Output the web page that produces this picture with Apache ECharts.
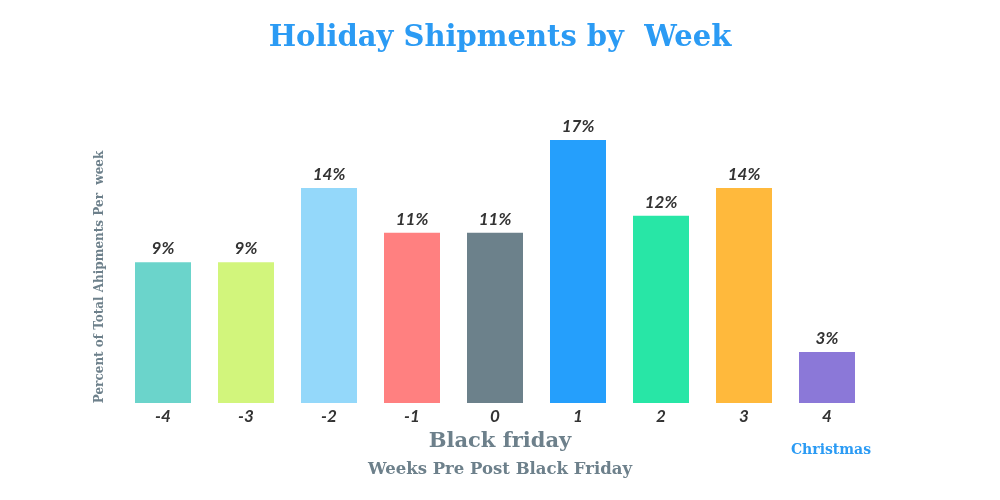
<!DOCTYPE html>
<html><head><meta charset="utf-8">
<script src="https://cdn.jsdelivr.net/npm/echarts@6/dist/echarts.min.js"></script>
<style>html,body{margin:0;padding:0;background:#fff}#c{width:1000px;height:500px}</style>
</head><body><div id="c"></div>
<script>
const weeks = ['-4','-3','-2','-1','0','1','2','3','4'];
const shares = [9.1, 9.1, 13.9, 11.0, 11.0, 17.0, 12.1, 13.9, 3.3];
const labels = ['9%','9%','14%','11%','11%','17%','12%','14%','3%'];
const colors = ['#6bd4cb','#d2f57c','#94d8fa','#ff8080','#6c818b','#259ffc','#28e6a6','#ffb93c','#8b78d8'];

const chart = echarts.init(document.getElementById('c'));
chart.setOption({
  backgroundColor:'#fff',
  title:[
    {text:'Holiday Shipments by  Week',left:'center',top:19,
     textStyle:{fontFamily:'DejaVu Serif',fontWeight:'bold',fontSize:29,color:'#2b9bf4'}},
    {text:'Black friday',left:495,textAlign:'center',top:426,
     textStyle:{fontFamily:'DejaVu Serif',fontWeight:'bold',fontSize:21,color:'#6d808b'}},
    {text:'Weeks Pre Post Black Friday',left:495,textAlign:'center',top:456,
     textStyle:{fontFamily:'DejaVu Serif',fontWeight:'bold',fontSize:16.5,color:'#6d808b'}},
    {text:'Christmas',left:826,textAlign:'center',top:438,
     textStyle:{fontFamily:'DejaVu Serif',fontWeight:'bold',fontSize:14,color:'#2b9bf4'}}
  ],
  graphic:[{type:'text',x:100,y:277,rotation:Math.PI/2,
    style:{text:'Percent of Total Ahipments Per  week',align:'center',verticalAlign:'middle',
      font:'bold 12px "DejaVu Serif"',fill:'#6d808b'}}],
  grid:{left:121.5,right:131.5,top:93.6,bottom:97,containLabel:false},
  xAxis:{type:'category',data:weeks,
    axisLine:{show:false},axisTick:{show:false},
    axisLabel:{margin:5,fontFamily:'Lato',fontStyle:'italic',fontWeight:'bold',fontSize:17,color:'#333'}},
  yAxis:{type:'value',min:0,max:20,
    axisLine:{show:false},axisTick:{show:false},axisLabel:{show:false},splitLine:{show:false}},
  series:[{type:'bar',barWidth:56,
    data:shares.map((v,i)=>({value:v,itemStyle:{color:colors[i]}})),
    label:{show:true,position:'top',distance:5,
      formatter:p=>labels[p.dataIndex],
      fontFamily:'Lato',fontStyle:'italic',fontWeight:'bold',fontSize:17,color:'#333'}}]
});
</script></body></html>
